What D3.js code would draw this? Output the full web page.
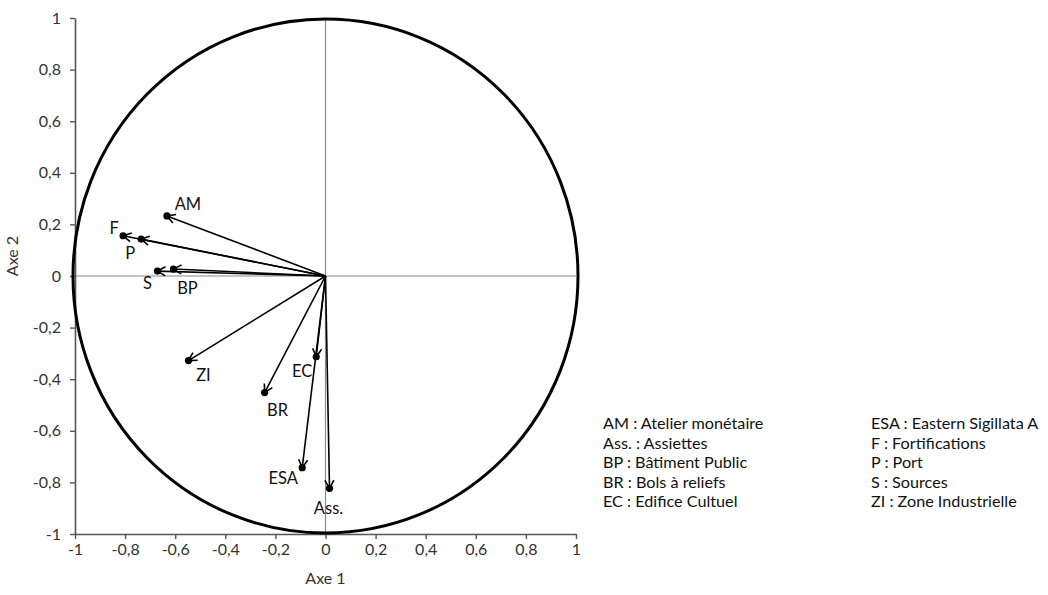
<!DOCTYPE html>
<html>
<head>
<meta charset="utf-8">
<script src="https://cdn.jsdelivr.net/npm/d3@7"></script>
<style>
  body { margin: 0; background: #fff; }
  svg { display: block; font-family: Lato, "Open Sans", sans-serif; }
</style>
</head>
<body>
<svg id="chart" width="1048" height="595"></svg>
<script>
// ---- data ----
const codes = ["AM", "F", "P", "S", "BP", "ZI", "BR", "EC", "ESA", "Ass."];
const axe1 = [-0.633, -0.808, -0.736, -0.671, -0.607, -0.547, -0.243, -0.037, -0.093, 0.016];
const axe2 = [0.233, 0.156, 0.143, 0.019, 0.027, -0.328, -0.452, -0.313, -0.743, -0.823];
const tickValues = [-1, -0.8, -0.6, -0.4, -0.2, 0, 0.2, 0.4, 0.6, 0.8, 1];
const legendCol1 = ["AM : Atelier monétaire", "Ass. : Assiettes", "BP : Bâtiment Public", "BR : Bols à reliefs", "EC : Edifice Cultuel"];
const legendCol2 = ["ESA : Eastern Sigillata A", "F : Fortifications", "P : Port", "S : Sources", "ZI : Zone Industrielle"];

// label placement offsets (pixels, relative to point)
const labelOffset = {
  "AM": [21, -12], "F": [-9, -8], "P": [-11, 14], "S": [-10, 12], "BP": [14, 19],
  "ZI": [15, 14], "BR": [13, 17], "EC": [-14, 14], "ESA": [-19, 10], "Ass.": [-1, 20]
};

const FONT = "Lato, 'Open Sans', sans-serif";
const svg = d3.select("#chart");
const x = d3.scaleLinear().domain([-1, 1]).range([75, 576]);
const y = d3.scaleLinear().domain([-1, 1]).range([534, 18]);
const fmt = d => String(+d.toFixed(1)).replace(".", ",");

// zero lines
svg.append("line").attr("x1", x(-1)).attr("x2", x(1)).attr("y1", y(0)).attr("y2", y(0))
  .attr("stroke", "#8a8a8a").attr("stroke-width", 1.2);
svg.append("line").attr("x1", x(0)).attr("x2", x(0)).attr("y1", y(1)).attr("y2", y(-1))
  .attr("stroke", "#8a8a8a").attr("stroke-width", 1.2);

// axes
const gx = svg.append("g").attr("transform", `translate(0,${y(-1)})`)
  .call(d3.axisBottom(x).tickValues(tickValues).tickFormat(fmt).tickSize(5).tickSizeOuter(0).tickPadding(5));
const gy = svg.append("g").attr("transform", `translate(${x(-1)},0)`)
  .call(d3.axisLeft(y).tickValues(tickValues).tickFormat(fmt).tickSize(5).tickSizeOuter(0).tickPadding(9));
[gx, gy].forEach(g => {
  g.select(".domain").attr("stroke", "#555").attr("stroke-width", 1.6);
  g.selectAll(".tick line").attr("stroke", "#555").attr("stroke-width", 1.4);
  g.selectAll(".tick text").attr("fill", "#333").style("font-size", "16px").style("font-family", FONT);
});

svg.append("text").attr("x", x(0)).attr("y", 584).attr("text-anchor", "middle")
  .attr("fill", "#333").style("font-size", "16px").text("Axe 1");
svg.append("text").attr("transform", `translate(18,${y(0) - 20}) rotate(-90)`).attr("text-anchor", "middle")
  .attr("fill", "#333").style("font-size", "16px").text("Axe 2");

// correlation circle
svg.append("ellipse").attr("cx", x(0)).attr("cy", y(0))
  .attr("rx", x(1) - x(0) + 2).attr("ry", y(-1) - y(0) - 1)
  .attr("fill", "none").attr("stroke", "#000").attr("stroke-width", 3);

// arrow marker
svg.append("defs").append("marker").attr("id", "arr")
  .attr("viewBox", "-10 -6 12 12").attr("refX", 0).attr("refY", 0)
  .attr("markerWidth", 12).attr("markerHeight", 12).attr("markerUnits", "userSpaceOnUse")
  .attr("orient", "auto")
  .append("path").attr("d", "M-8,-4.5 L0,0 L-8,4.5").attr("fill", "none")
  .attr("stroke", "#000").attr("stroke-width", 1.6);

const pts = codes.map((c, i) => ({ c, a: axe1[i], b: axe2[i] }));

svg.append("g").selectAll("line").data(pts).join("line")
  .attr("x1", x(0)).attr("y1", y(0))
  .attr("x2", d => x(d.a)).attr("y2", d => y(d.b))
  .attr("stroke", "#000").attr("stroke-width", 1.6)
  .attr("marker-end", "url(#arr)");

svg.append("g").selectAll("circle").data(pts).join("circle")
  .attr("cx", d => x(d.a)).attr("cy", d => y(d.b)).attr("r", 3.6).attr("fill", "#000");

svg.append("g").selectAll("text").data(pts).join("text")
  .attr("x", d => x(d.a) + labelOffset[d.c][0])
  .attr("y", d => y(d.b) + labelOffset[d.c][1])
  .attr("text-anchor", "middle").attr("dominant-baseline", "central")
  .style("font-size", "16.5px").attr("fill", "#111").text(d => d.c);

// legend
const leg = svg.append("g").style("font-size", "16.2px").attr("fill", "#111");
leg.selectAll("text.c1").data(legendCol1).join("text").attr("class", "c1")
  .attr("x", 603).attr("y", (d, i) => 429 + i * 19.5).text(d => d);
leg.selectAll("text.c2").data(legendCol2).join("text").attr("class", "c2")
  .attr("x", 871).attr("y", (d, i) => 429 + i * 19.5).text(d => d);
</script>
</body>
</html>
